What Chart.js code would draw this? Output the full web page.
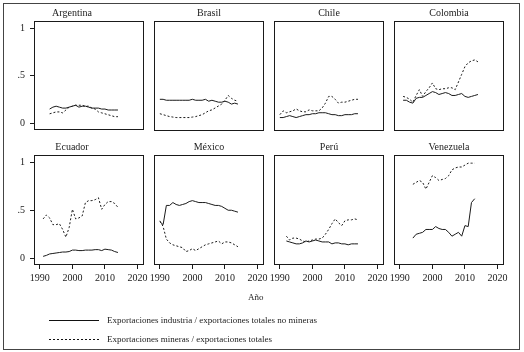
<!DOCTYPE html>
<html>
<head>
<meta charset="utf-8">
<script src="https://cdn.jsdelivr.net/npm/chart.js@4.4.1/dist/chart.umd.min.js"></script>
<style>
  body { margin: 0; width: 524px; height: 352px; background: #fff; position: relative; overflow: hidden;
         font-family: "Liberation Serif", "DejaVu Serif", serif; color: #222; }
  #frame { position: absolute; left: 3px; top: 3px; width: 515px; height: 345px; border: 1px solid #444; }
  canvas { position: absolute; }
  .txt { position: absolute; font-size: 9px; white-space: nowrap; line-height: 12px; }
  svg { position: absolute; }
</style>
</head>
<body>
<div id="frame"></div>
<div id="panels"></div>
<div class="txt" style="left:248px; top:291px;">Año</div>
<svg style="left:48px; top:315px;" width="54" height="10"><line x1="1" y1="5.5" x2="51" y2="5.5" stroke="#111" stroke-width="1"/></svg>
<div class="txt" style="left:107px; top:314px;">Exportaciones industria / exportaciones totales no mineras</div>
<svg style="left:48px; top:334px;" width="54" height="10"><line x1="1" y1="5.5" x2="51" y2="5.5" stroke="#111" stroke-width="1" stroke-dasharray="2,2"/></svg>
<div class="txt" style="left:107px; top:333px;">Exportaciones mineras / exportaciones totales</div>
<script>
// años 1990-2014
const years = [1990, 1991, 1992, 1993, 1994, 1995, 1996, 1997, 1998, 1999, 2000, 2001, 2002,
               2003, 2004, 2005, 2006, 2007, 2008, 2009, 2010, 2011, 2012, 2013, 2014];
const countries = ['Argentina', 'Brasil', 'Chile', 'Colombia', 'Ecuador', 'México', 'Perú', 'Venezuela'];
const xTicks = [1990, 2000, 2010, 2020];
const yTicks = [0, 0.5, 1];

// industria / totales no mineras
const argInd = [null, null, null, 0.15, 0.17, 0.18, 0.17, 0.16, 0.16, 0.17, 0.18, 0.19, 0.17, 0.18, 0.18, 0.17, 0.16, 0.16, 0.16, 0.15, 0.15, 0.14, 0.14, 0.14, 0.14];
const braInd = [0.26, 0.26, 0.25, 0.25, 0.25, 0.25, 0.25, 0.25, 0.25, 0.25, 0.26, 0.25, 0.25, 0.25, 0.26, 0.24, 0.25, 0.24, 0.23, 0.23, 0.24, 0.23, 0.21, 0.22, 0.21];
const chiInd = [0.07, 0.07, 0.08, 0.09, 0.08, 0.07, 0.08, 0.09, 0.10, 0.10, 0.11, 0.11, 0.12, 0.12, 0.12, 0.11, 0.10, 0.10, 0.09, 0.09, 0.10, 0.10, 0.10, 0.11, 0.11];
const colInd = [null, 0.25, 0.25, 0.23, 0.22, 0.27, 0.28, 0.28, 0.30, 0.32, 0.34, 0.33, 0.31, 0.32, 0.33, 0.32, 0.30, 0.30, 0.31, 0.32, 0.29, 0.28, 0.29, 0.30, 0.31];
const ecuInd = [null, 0.02, 0.03, 0.045, 0.05, 0.055, 0.06, 0.065, 0.065, 0.07, 0.085, 0.085, 0.08, 0.08, 0.085, 0.085, 0.085, 0.09, 0.09, 0.08, 0.095, 0.09, 0.085, 0.07, 0.06];
const mexInd = [0.38, 0.35, 0.55, 0.55, 0.58, 0.56, 0.55, 0.56, 0.57, 0.59, 0.60, 0.59, 0.58, 0.58, 0.58, 0.57, 0.56, 0.55, 0.55, 0.54, 0.52, 0.50, 0.50, 0.49, 0.48];
const perInd = [null, null, 0.18, 0.17, 0.16, 0.15, 0.15, 0.16, 0.18, 0.17, 0.18, 0.19, 0.18, 0.17, 0.17, 0.17, 0.15, 0.16, 0.16, 0.15, 0.15, 0.14, 0.15, 0.15, 0.15];
const venInd = [null, null, null, null, 0.21, 0.25, 0.26, 0.27, 0.30, 0.30, 0.30, 0.33, 0.31, 0.30, 0.30, 0.27, 0.23, 0.25, 0.27, 0.23, 0.34, 0.33, 0.58, 0.62, null];

// mineras / totales
const argMin = [null, null, null, 0.10, 0.11, 0.12, 0.12, 0.11, 0.14, 0.17, 0.18, 0.19, 0.19, 0.19, 0.18, 0.18, 0.16, 0.15, 0.12, 0.11, 0.10, 0.09, 0.08, 0.07, 0.07];
const braMin = [0.11, 0.10, 0.09, 0.08, 0.075, 0.07, 0.07, 0.07, 0.07, 0.07, 0.075, 0.08, 0.09, 0.10, 0.12, 0.14, 0.15, 0.17, 0.19, 0.21, 0.25, 0.30, 0.27, 0.25, 0.24];
const chiMin = [0.10, 0.14, 0.12, 0.13, 0.14, 0.16, 0.14, 0.13, 0.13, 0.15, 0.14, 0.14, 0.14, 0.17, 0.22, 0.29, 0.29, 0.26, 0.22, 0.23, 0.23, 0.24, 0.25, 0.26, 0.26];
const colMin = [null, 0.29, 0.28, 0.26, 0.23, 0.30, 0.36, 0.29, 0.34, 0.38, 0.43, 0.37, 0.36, 0.37, 0.37, 0.38, 0.38, 0.36, 0.44, 0.52, 0.60, 0.64, 0.66, 0.67, 0.65];
const ecuMin = [null, 0.41, 0.45, 0.42, 0.35, 0.35, 0.36, 0.30, 0.22, 0.32, 0.51, 0.41, 0.42, 0.44, 0.58, 0.60, 0.60, 0.61, 0.63, 0.51, 0.56, 0.59, 0.59, 0.57, 0.53];
const mexMin = [0.39, 0.33, 0.20, 0.16, 0.14, 0.13, 0.12, 0.11, 0.07, 0.08, 0.10, 0.08, 0.10, 0.12, 0.14, 0.15, 0.16, 0.17, 0.18, 0.15, 0.17, 0.17, 0.16, 0.14, 0.12];
const perMin = [null, null, 0.23, 0.19, 0.21, 0.21, 0.20, 0.18, 0.17, 0.18, 0.19, 0.20, 0.20, 0.21, 0.25, 0.30, 0.36, 0.41, 0.37, 0.34, 0.39, 0.40, 0.40, 0.41, 0.40];
const venMin = [null, null, null, null, 0.77, 0.79, 0.81, 0.79, 0.72, 0.79, 0.86, 0.84, 0.81, 0.82, 0.83, 0.86, 0.92, 0.94, 0.95, 0.95, 0.97, 0.99, 0.99, 0.99, null];

const industria = [argInd, braInd, chiInd, colInd, ecuInd, mexInd, perInd, venInd];
const mineras = [argMin, braMin, chiMin, colMin, ecuMin, mexMin, perMin, venMin];

const FONT = '"Liberation Serif", "DejaVu Serif", serif';
const INK = '#1a1a1a';

// dibuja el recuadro de cada panel
const framePlugin = {
  id: 'frame',
  afterDatasetsDraw(chart) {
    const a = chart.chartArea, c = chart.ctx;
    c.save();
    c.strokeStyle = INK;
    c.lineWidth = 1;
    c.strokeRect(Math.round(a.left) + 0.5, Math.round(a.top) + 0.5,
                 Math.round(a.right - a.left) - 1, Math.round(a.bottom - a.top) - 1);
    c.restore();
  }
};

function points(vals) {
  return years.map((y, i) => ({ x: y, y: vals[i] }));
}

countries.forEach(function (name, i) {
  const col = i % 4, row = Math.floor(i / 4);
  const boxLeft = 34 + col * 120, boxTop = row ? 155 : 21, boxW = 110, boxH = 110;
  const yW = col === 0 ? 34 : 0, xH = row ? 22 : 0;
  // sin eje x, se deja margen abajo para el rótulo "0"
  const padL = 12, padR = 12, padB = row ? 0 : 10, titleH = 21;

  const cv = document.createElement('canvas');
  cv.width = padL + yW + boxW + padR;
  cv.height = titleH + boxH + xH + padB;
  cv.style.left = (boxLeft - yW - padL) + 'px';
  cv.style.top = (boxTop - titleH) + 'px';
  cv.style.width = cv.width + 'px';
  cv.style.height = cv.height + 'px';
  document.getElementById('panels').appendChild(cv);

  new Chart(cv, {
    type: 'line',
    data: {
      datasets: [{
        data: points(industria[i]),
        borderColor: INK,
        borderWidth: 1,
        pointRadius: 0,
        tension: 0
      }, {
        data: points(mineras[i]),
        borderColor: INK,
        borderWidth: 1,
        borderDash: [2, 2],
        pointRadius: 0,
        tension: 0
      }]
    },
    options: {
      responsive: false,
      animation: false,
      events: [],
      layout: { padding: { left: padL, right: padR, top: 0, bottom: padB } },
      plugins: {
        legend: { display: false },
        tooltip: { enabled: false },
        title: {
          display: true,
          text: name,
          color: '#222',
          font: { family: FONT, size: 10, weight: 'normal', lineHeight: 1.2 },
          padding: { top: 7, bottom: 2 }
        }
      },
      scales: {
        x: {
          type: 'linear',
          min: 1988.2,
          max: 2022,
          display: row === 1,
          afterBuildTicks: s => { s.ticks = xTicks.map(v => ({ value: v })); },
          afterFit: s => { s.height = xH; },
          grid: { drawOnChartArea: false, drawTicks: true, tickLength: 4, color: INK },
          border: { display: false },
          ticks: {
            color: '#222', padding: 3, maxRotation: 0, autoSkip: false,
            font: { family: FONT, size: 10 },
            callback: v => String(v)
          }
        },
        y: {
          min: -0.07,
          max: 1.075,
          display: col === 0,
          afterBuildTicks: s => { s.ticks = yTicks.map(v => ({ value: v })); },
          afterFit: s => { s.width = yW; },
          grid: { drawOnChartArea: false, drawTicks: true, tickLength: 4, color: INK },
          border: { display: false },
          ticks: {
            color: '#222', padding: 5, font: { family: FONT, size: 10 },
            callback: v => (v === 0.5 ? '.5' : String(v))
          }
        }
      }
    },
    plugins: [framePlugin]
  });
});
</script>
</body>
</html>
